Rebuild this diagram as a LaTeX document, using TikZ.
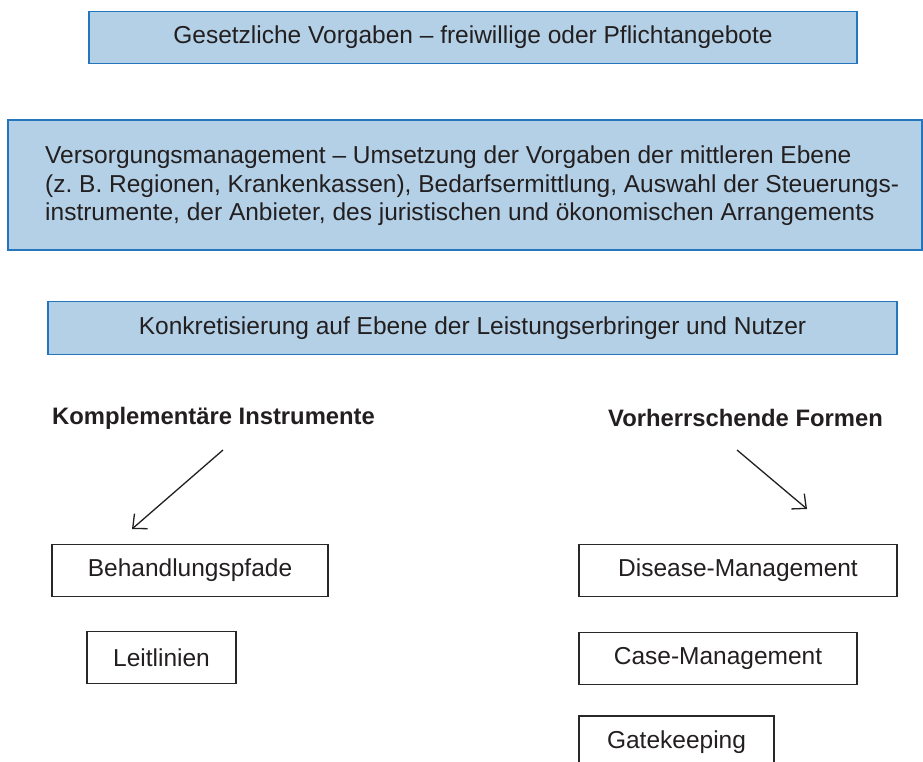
\documentclass[tikz,border=0pt]{standalone}
\usepackage{fontspec}
\setmainfont{Liberation Sans}
\usetikzlibrary{arrows.meta}
\frenchspacing
\definecolor{txt}{RGB}{35,31,32}
\definecolor{bluefill}{RGB}{179,208,230}
\definecolor{blueline}{RGB}{38,118,190}
\definecolor{boxline}{RGB}{40,40,40}
\tikzset{
  bodyfont/.style={font=\fontsize{24.5}{28.5}\selectfont},
  bluebox/.style={draw=blueline, fill=bluefill, line width=1.2pt, rectangle, inner sep=0pt, text=txt, bodyfont},
  plainbox/.style={draw=boxline, line width=1.1pt, rectangle, inner sep=0pt, text=txt, minimum height=52pt, bodyfont},
  heading/.style={inner sep=0pt, text=txt, font=\fontsize{23.8}{28.5}\selectfont\bfseries},
  plaintext/.style={inner sep=0pt, text=txt, bodyfont, align=left},
  arr/.style={draw=txt, line width=1.3pt, -{Straight Barb[length=11pt,width=20pt,line width=1.3pt]}}
}
\begin{document}
\begin{tikzpicture}[x=1pt,y=-1pt]
\useasboundingbox (0,0) rectangle (923,762);
\clip (0,0) rectangle (923,762);
\node[bluebox, minimum width=768pt, minimum height=52pt] (gesetz) at (473,37.5) {Gesetzliche Vorgaben – freiwillige oder Pflichtangebote};
\node[bluebox, minimum width=914pt, minimum height=130pt] (versorg) at (465,185) {};
\node[plaintext, anchor=west] (versorgtext) at (45,186) {Versorgungsmanagement – Umsetzung der Vorgaben der mittleren Ebene\\(z. B. Regionen, Krankenkassen), Bedarfsermittlung, Auswahl der Steuerungs-\\instrumente, der Anbieter, des juristischen und ökonomischen Arrangements};
\node[bluebox, minimum width=849pt, minimum height=53pt] (konkret) at (472.5,328) {Konkretisierung auf Ebene der Leistungserbringer und Nutzer};
\node[heading, anchor=west] (komp) at (52,418) {Komplementäre Instrumente};
\node[heading, anchor=west] (vorh) at (608,418) {Vorherrschende Formen};
\node[plainbox, minimum width=276pt] (beh) at (190,570.5) {Behandlungspfade};
\node[plainbox, minimum width=149pt] (leit) at (161.5,657.5) {Leitlinien};
\node[plainbox, minimum width=318pt] (dis) at (738,570.5) {Disease-Management};
\node[plainbox, minimum width=278pt] (case) at (718,658.5) {Case-Management};
\node[plainbox, minimum width=195pt] (gate) at (676.5,742) {Gatekeeping};
\coordinate (a1s) at (223,450);
\coordinate (a1e) at (132,529);
\coordinate (a2s) at (737,450);
\coordinate (a2e) at (807,509);
\draw[arr] (a1s) -- (a1e);
\draw[arr] (a2s) -- (a2e);
\end{tikzpicture}
\end{document}
